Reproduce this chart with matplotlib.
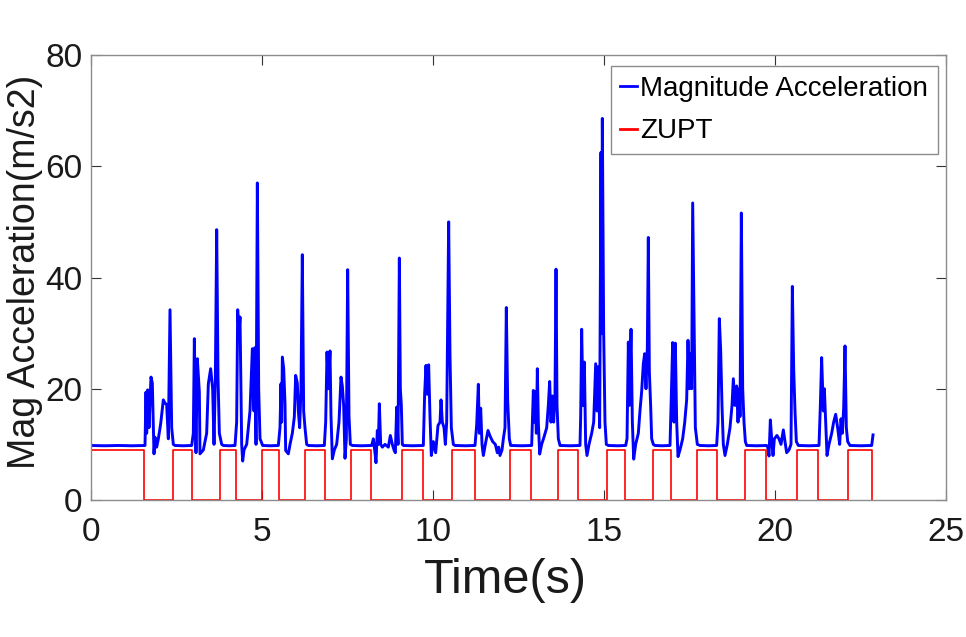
import matplotlib
matplotlib.use("Agg")
import matplotlib.pyplot as plt

# ---------------- data ----------------
acc_t = [0.0, 0.4, 0.8, 1.2, 1.579, 1.608, 1.628, 1.657, 1.696, 1.754, 1.793, 1.842, 1.871,
         1.920, 1.969, 2.037, 2.115, 2.164, 2.212, 2.261, 2.310, 2.359, 2.407, 2.456, 2.7,
         2.944, 2.992, 3.022, 3.070, 3.109, 3.168, 3.187, 3.285, 3.382, 3.431, 3.499, 3.557,
         3.597, 3.636, 3.675, 3.714, 3.753, 3.821, 3.870, 4.05, 4.211, 4.259, 4.289, 4.328,
         4.357, 4.406, 4.435, 4.474, 4.552, 4.649, 4.718, 4.766, 4.795, 4.825, 4.864, 4.903,
         4.942, 5.020, 5.25, 5.478, 5.526, 5.555, 5.575, 5.595, 5.634, 5.673, 5.692, 5.770,
         5.819, 5.887, 5.945, 5.984, 6.033, 6.062, 6.101, 6.140, 6.179, 6.218, 6.257, 6.306,
         6.355, 6.6, 6.823, 6.862, 6.901, 6.940, 6.988, 7.018, 7.057, 7.115, 7.183, 7.251,
         7.310, 7.349, 7.388, 7.427, 7.466, 7.505, 7.544, 7.583, 7.641, 7.9, 8.207, 8.256,
         8.304, 8.333, 8.372, 8.402, 8.431, 8.470, 8.519, 8.597, 8.694, 8.753, 8.811, 8.860,
         8.899, 8.938, 8.977, 9.016, 9.045, 9.074, 9.103, 9.133, 9.4, 9.717, 9.756, 9.795,
         9.834, 9.873, 9.912, 9.951, 10.010, 10.078, 10.146, 10.205, 10.234, 10.273, 10.322,
         10.361, 10.400, 10.458, 10.497, 10.536, 10.595, 10.643, 10.95, 11.228, 11.277,
         11.326, 11.355, 11.394, 11.433, 11.472, 11.530, 11.608, 11.667, 11.745, 11.823,
         11.881, 11.920, 11.959, 12.018, 12.057, 12.105, 12.144, 12.183, 12.232, 12.271,
         12.6, 12.885, 12.934, 12.963, 12.983, 13.022, 13.051, 13.080, 13.119, 13.177,
         13.255, 13.324, 13.372, 13.411, 13.450, 13.489, 13.528, 13.567, 13.597, 13.626,
         13.665, 13.714, 14.0, 14.298, 14.318, 14.347, 14.386, 14.425, 14.464, 14.503,
         14.562, 14.640, 14.698, 14.757, 14.796, 14.835, 14.873, 14.912, 14.932, 14.951,
         14.990, 15.029, 15.068, 15.127, 15.4, 15.634, 15.673, 15.712, 15.741, 15.790,
         15.829, 15.868, 15.926, 16.004, 16.053, 16.101, 16.150, 16.189, 16.228, 16.267,
         16.296, 16.326, 16.364, 16.394, 16.443, 16.491, 16.7, 16.930, 16.949, 16.979,
         17.008, 17.047, 17.086, 17.125, 17.164, 17.222, 17.300, 17.359, 17.417, 17.456,
         17.495, 17.534, 17.563, 17.593, 17.632, 17.671, 17.729, 17.807, 18.05, 18.294,
         18.333, 18.372, 18.411, 18.450, 18.489, 18.538, 18.606, 18.684, 18.743, 18.782,
         18.830, 18.879, 18.918, 18.957, 18.977, 19.016, 19.055, 19.094, 19.133, 19.172,
         19.45, 19.756, 19.786, 19.825, 19.864, 19.903, 19.942, 19.981, 20.058, 20.117,
         20.175, 20.244, 20.292, 20.341, 20.409, 20.468, 20.507, 20.546, 20.585, 20.624,
         20.663, 20.682, 21.0, 21.287, 21.326, 21.364, 21.413, 21.443, 21.482, 21.521,
         21.579, 21.657, 21.715, 21.774, 21.832, 21.891, 21.930, 21.969, 22.008, 22.047,
         22.086, 22.125, 22.193, 22.5, 22.827, 22.866]
acc_v = [9.8, 9.75, 9.8, 9.75, 9.8, 19.4, 12.0, 19.8, 13.0, 22.1, 21.0, 8.3, 11.3,
         9.5, 11.0, 13.7, 18.0, 17.4, 17.2, 11.0, 34.2, 13.0, 10.0, 9.8, 9.75,
         9.8, 12.0, 29.0, 8.5, 25.4, 19.4, 8.3, 9.0, 12.0, 20.9, 23.6, 20.0,
         10.0, 22.0, 48.6, 22.0, 12.0, 10.0, 9.8, 9.75, 9.8, 14.0, 34.2, 30.0,
         32.9, 10.0, 7.0, 9.0, 10.0, 16.0, 27.2, 16.0, 27.4, 10.0, 57.0, 20.0,
         11.0, 9.8, 9.75, 9.8, 13.0, 20.9, 14.0, 25.7, 23.6, 17.3, 8.9, 8.3,
         10.0, 12.0, 14.9, 22.4, 21.0, 16.0, 13.0, 20.0, 44.1, 16.0, 13.0, 10.0,
         9.8, 9.75, 9.8, 14.0, 26.6, 20.0, 26.8, 15.0, 7.4, 9.0, 10.0, 14.0,
         22.1, 20.5, 17.0, 7.5, 11.0, 41.4, 15.0, 10.0, 9.8, 9.75, 9.8, 11.0,
         8.5, 6.7, 12.5, 10.0, 17.3, 10.0, 9.5, 10.0, 9.5, 11.6, 10.0, 9.0,
         8.5, 16.7, 10.0, 43.5, 20.0, 17.0, 10.0, 9.8, 9.75, 9.8, 19.1, 24.2,
         19.0, 24.3, 15.0, 8.0, 10.5, 8.5, 13.4, 14.0, 18.0, 14.0, 13.0,
         10.0, 14.0, 50.0, 26.0, 13.0, 10.0, 9.8, 9.75, 9.8, 13.5,
         20.8, 12.0, 16.5, 10.0, 8.0, 10.0, 12.5, 11.5, 10.5, 10.0,
         8.5, 9.5, 8.0, 9.0, 11.0, 13.0, 34.6, 18.0, 11.0, 9.8,
         9.75, 9.8, 19.7, 14.0, 19.5, 12.0, 23.6, 14.0, 8.25, 10.0,
         11.5, 13.0, 17.0, 21.3, 14.0, 18.7, 14.0, 19.0, 41.5, 17.0,
         11.0, 9.8, 9.75, 9.8, 15.0, 30.7, 17.0, 24.8, 10.0, 8.0,
         10.0, 12.0, 14.0, 24.5, 16.0, 24.0, 13.0, 62.5, 30.0, 68.6,
         30.2, 14.0, 10.0, 9.8, 9.75, 9.8, 11.0, 28.4, 17.0, 30.7,
         14.0, 7.35, 10.0, 12.0, 16.1, 19.5, 24.5, 26.3, 20.0, 27.4,
         47.2, 23.0, 17.0, 11.0, 10.0, 9.8, 9.75, 9.8, 14.0, 21.2,
         28.3, 14.0, 28.2, 14.0, 7.8, 9.0, 11.0, 13.9, 18.0, 28.7,
         20.0, 26.3, 20.0, 53.4, 32.6, 13.0, 10.0, 9.8, 9.75, 9.8,
         14.0, 32.6, 27.0, 17.0, 10.0, 8.0, 10.0, 13.0, 17.0, 21.8,
         17.0, 20.5, 14.0, 20.0, 15.0, 51.6, 20.0, 14.0, 10.5, 9.8,
         9.75, 9.8, 9.5, 7.9, 14.4, 11.0, 8.0, 11.0, 11.6, 11.0,
         10.0, 12.6, 10.5, 8.5, 9.0, 10.0, 38.4, 23.6, 16.0, 10.5,
         10.0, 9.8, 9.75, 9.8, 17.0, 25.6, 16.0, 20.0, 14.0, 8.0,
         10.0, 12.0, 14.0, 15.4, 13.0, 10.0, 14.6, 12.0, 16.5, 27.7,
         13.0, 10.5, 9.8, 9.75, 9.8, 11.7]

zupt_t = [0.0, 1.55, 2.39, 2.95, 3.78, 4.23, 4.99, 5.51, 6.27, 6.84, 7.59, 8.19, 9.08, 9.71,
          10.57, 11.22, 12.25, 12.87, 13.66, 14.25, 15.10, 15.62, 16.42, 16.95, 17.73,
          18.29, 19.12, 19.73, 20.64, 21.27, 22.13, 22.84]
zupt_v = [9, 0, 9, 0, 9, 0, 9, 0, 9, 0, 9, 0, 9, 0, 9, 0, 9, 0, 9, 0, 9, 0, 9, 0, 9,
          0, 9, 0, 9, 0, 9, 0]

x_ticks = [0, 5, 10, 15, 20, 25]
y_ticks = [0, 20, 40, 60, 80]
series_labels = ["Magnitude Acceleration", "ZUPT"]
x_label = "Time(s)"
y_label = "Mag Acceleration(m/s2)"

# ---------------- styling ----------------
plt.rcParams["font.family"] = ["Liberation Sans", "DejaVu Sans"]

W, H = 966, 637
fig = plt.figure(figsize=(W / 100, H / 100), dpi=100)
x0, x1, y0, y1 = 91, 946, 55, 500   # axes box in pixels
ax = fig.add_axes([x0 / W, 1 - y1 / H, (x1 - x0) / W, (y1 - y0) / H])

ax.plot(acc_t, acc_v, color="#0000ff", lw=2.1, label=series_labels[0])
ax.plot(zupt_t, zupt_v, color="#ff0000", lw=1.2, drawstyle="steps-post", label=series_labels[1])

ax.set_xlim(0, 25)
ax.set_ylim(0, 80)
ax.set_xticks(x_ticks)
ax.set_yticks(y_ticks)
ax.tick_params(direction="in", length=7, width=0.8, color="#333333", top=True, right=True,
               labelsize=24, labelcolor="#1a1a1a")
ax.tick_params(axis="x", pad=12)
ax.tick_params(axis="y", pad=6)
for s in ax.spines.values():
    s.set_color("#8c8c8c")
    s.set_linewidth(1.0)

ax.set_xlabel(x_label, fontsize=35, color="#1a1a1a")
ax.xaxis.set_label_coords((505 - x0) / (x1 - x0), -(558 - y1) / (y1 - y0))
ax.set_ylabel(y_label, fontsize=27, color="#1a1a1a")
ax.yaxis.set_label_coords(-(x0 - 43) / (x1 - x0), (y1 - 272) / (y1 - y0))

leg = ax.legend(loc="upper right", bbox_to_anchor=(938 / W, 1 - 66 / H),
                bbox_transform=fig.transFigure, borderaxespad=0,
                fontsize=20, frameon=True, fancybox=False,
                handlelength=0.6, handletextpad=0.12, borderpad=0.35, labelspacing=0.6,
                edgecolor="#8c8c8c", framealpha=1)
leg.get_frame().set_linewidth(1.0)
for h in leg.legend_handles:
    h.set_linewidth(2.0)

fig.savefig("out.png", dpi=100, facecolor="white")
